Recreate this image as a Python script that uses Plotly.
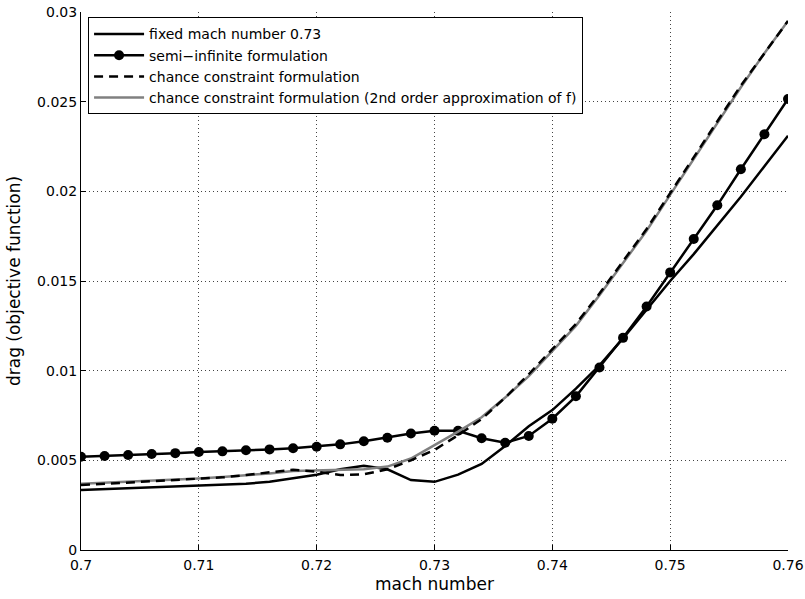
import plotly.graph_objects as go

mach = [0.700, 0.702, 0.704, 0.706, 0.708, 0.710, 0.712, 0.714, 0.716, 0.718,
        0.720, 0.722, 0.724, 0.726, 0.728, 0.730, 0.732, 0.734, 0.736, 0.738,
        0.740, 0.742, 0.744, 0.746, 0.748, 0.750, 0.752, 0.754, 0.756, 0.758, 0.760]

fixed_073 = [0.00335, 0.0034, 0.00344, 0.00348, 0.00352, 0.00357, 0.00363, 0.0037, 0.0038, 0.0040,
             0.0042, 0.0045, 0.0047, 0.0045, 0.0039, 0.0038, 0.0042, 0.0048, 0.0058, 0.0069,
             0.0078, 0.0090, 0.0103, 0.0118, 0.0134, 0.0150, 0.0165, 0.0181, 0.0197, 0.0214, 0.0231]

semi_infinite = [0.0052, 0.00524, 0.0053, 0.00535, 0.0054, 0.00546, 0.0055, 0.00556, 0.00561, 0.00567,
                 0.00576, 0.00589, 0.00606, 0.00626, 0.0065, 0.00665, 0.00665, 0.00623, 0.00598, 0.00636,
                 0.00732, 0.00857, 0.01018, 0.01183, 0.01358, 0.01548, 0.01734, 0.01922, 0.02123, 0.02318, 0.02515]

chance = [0.00362, 0.00369, 0.00376, 0.00382, 0.00388, 0.00394, 0.00405, 0.00418, 0.00435, 0.00448,
          0.00437, 0.00418, 0.00422, 0.0045, 0.0050, 0.00558, 0.0064, 0.0073, 0.0085, 0.0098,
          0.0112, 0.0126, 0.0143, 0.0161, 0.0179, 0.0199, 0.0219, 0.0239, 0.0259, 0.0277, 0.0295]

chance_2nd = [0.0037, 0.00375, 0.0038, 0.00386, 0.00392, 0.00399, 0.00407, 0.00416, 0.00427, 0.0044,
              0.00442, 0.00445, 0.0045, 0.00465, 0.0051, 0.00585, 0.0066, 0.0074, 0.0085, 0.0097,
              0.0111, 0.0125, 0.0142, 0.0160, 0.0178, 0.0198, 0.0218, 0.0238, 0.0258, 0.0277, 0.0295]

names = ["fixed mach number 0.73",
         "semi\u2212infinite formulation",
         "chance constraint formulation",
         "chance constraint formulation (2nd order approximation of f)"]

x_ticks = [0.70, 0.71, 0.72, 0.73, 0.74, 0.75, 0.76]
x_ticklabels = ["0.7", "0.71", "0.72", "0.73", "0.74", "0.75", "0.76"]
y_ticks = [0, 0.005, 0.01, 0.015, 0.02, 0.025, 0.03]
y_ticklabels = ["0", "0.005", "0.01", "0.015", "0.02", "0.025", "0.03"]

FONT = "DejaVu Sans, Liberation Sans, Arial, sans-serif"

fig = go.Figure()
fig.add_trace(go.Scatter(x=mach, y=fixed_073, name=names[0], mode="lines", legendrank=1,
                         line=dict(color="black", width=2.5)))
fig.add_trace(go.Scatter(x=mach, y=semi_infinite, name=names[1], mode="lines+markers",
                         legendrank=2, line=dict(color="black", width=2.5),
                         marker=dict(color="black", size=10, symbol="circle")))
fig.add_trace(go.Scatter(x=mach, y=chance_2nd, name=names[3], mode="lines", legendrank=4,
                         line=dict(color="#808080", width=2.5)))
fig.add_trace(go.Scatter(x=mach, y=chance, name=names[2], mode="lines", legendrank=3,
                         line=dict(color="black", width=2.5, dash="9px,6px")))

axis_common = dict(
    showline=True, linecolor="black", linewidth=1, mirror=False,
    ticks="inside", ticklen=5, tickcolor="black", tickwidth=1,
    showgrid=True, gridcolor="#444444", gridwidth=1, griddash="1px,3px",
    zeroline=False, tickfont=dict(family=FONT, size=14, color="black"),
)

fig.update_xaxes(range=[0.70, 0.76], tickvals=x_ticks, ticktext=x_ticklabels,
                 ticklabelstandoff=2,
                 title=dict(text="mach number", font=dict(family=FONT, size=17, color="black"),
                            standoff=6),
                 **axis_common)
fig.update_yaxes(range=[0, 0.03], tickvals=y_ticks, ticktext=y_ticklabels,
                 title=dict(text="drag (objective function)",
                            font=dict(family=FONT, size=17, color="black"), standoff=12),
                 **axis_common)

fig.update_layout(
    width=805, height=599,
    margin=dict(l=81, r=17, t=12, b=49, autoexpand=False),
    paper_bgcolor="white", plot_bgcolor="white",
    font=dict(family=FONT, color="black"),
    showlegend=True,
    legend=dict(x=0.01, y=0.99, xanchor="left", yanchor="top",
                bgcolor="white", bordercolor="black", borderwidth=1,
                font=dict(family=FONT, size=14, color="black"),
                itemwidth=50, tracegroupgap=0, traceorder="normal"),
)

fig.write_html("out.html", config={"displayModeBar": False},
               post_script="document.body.style.margin='0';document.body.style.padding='0';")
